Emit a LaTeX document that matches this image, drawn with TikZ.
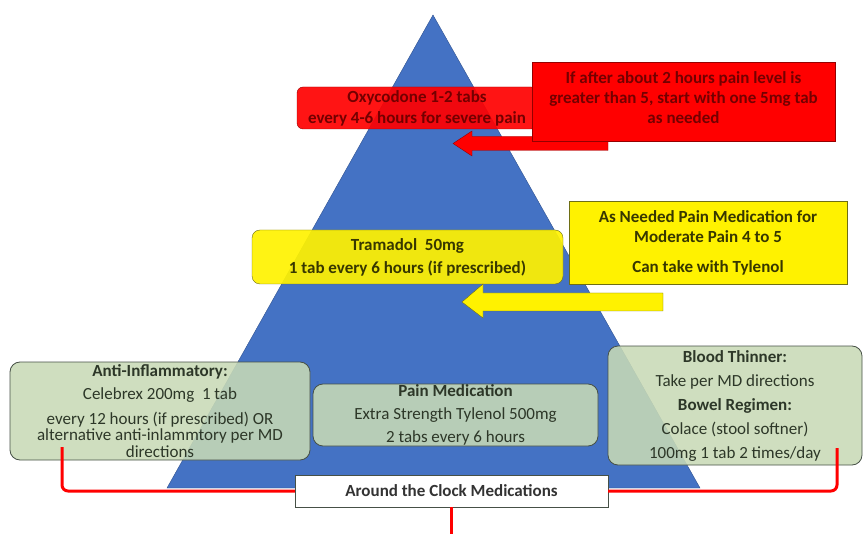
\documentclass[tikz,border=0pt]{standalone}
\usepackage{fontspec}
\setmainfont{Carlito}
\definecolor{pyrblue}{RGB}{68,114,196}
\definecolor{pyredge}{RGB}{47,82,143}
\definecolor{sage}{RGB}{200,218,182}
\definecolor{sagetext}{RGB}{45,55,40}
\definecolor{sageedge}{RGB}{70,80,70}
\definecolor{redtext}{RGB}{115,0,0}
\definecolor{rededge}{RGB}{150,0,0}
\definecolor{yeltext}{RGB}{55,55,0}
\definecolor{yeledge}{RGB}{110,110,20}
\begin{document}
\begin{tikzpicture}[x=1pt,y=-1pt,
    box/.style={inner sep=0pt,align=center,font=\fontsize{17}{16.5}\selectfont},
    redbox/.style={box,draw=rededge,fill=red,text=redtext,font=\fontsize{17}{20}\selectfont\bfseries},
    yelbox/.style={box,draw=yeledge,fill=yellow,text=yeltext,font=\fontsize{17}{20}\selectfont\bfseries},
    sagebox/.style={box,draw=sageedge,fill=sage,fill opacity=0.88,text opacity=1,text=sagetext,rounded corners=10pt,thick},
    bracket/.style={red,line width=3pt,rounded corners=6pt}]
    \useasboundingbox (0,0) rectangle (864,534);

    % pyramid
    \filldraw[fill=pyrblue,draw=pyredge] (433,15) -- (700,488) -- (167,488) -- cycle;

    % severe pain
    \node[redbox,rounded corners=6pt,fill opacity=0.92,text opacity=1,minimum width=240pt,minimum height=42pt] (oxy) at (417,108) {Oxycodone 1-2 tabs\\[1pt] every 4-6 hours for severe pain};
    \filldraw[fill=red,draw=rededge] (608,136.5) -- (472,136.5) -- (472,131) -- (453,143.5) -- (472,156) -- (472,150.5) -- (608,150.5) -- cycle;
    \node[redbox,minimum width=303pt,minimum height=79pt] (oxynote) at (683.5,101.5) {If after about 2 hours pain level is\\ greater than 5, start with one 5mg tab\\ as needed\\[-13pt]};

    % moderate pain
    \node[yelbox,rounded corners=8pt,fill opacity=0.92,text opacity=1,minimum width=311pt,minimum height=54pt] (tram) at (407.5,257) {Tramadol\ \ 50mg\\[3pt] 1 tab every 6 hours (if prescribed)};
    \node[yelbox,minimum width=278pt,minimum height=83pt] (tramnote) at (708,242.5) {As Needed Pain Medication for\\ Moderate Pain 4 to 5\\[10pt] Can take with Tylenol};
    \filldraw[fill=yellow,draw=yeledge] (663,293) -- (483,293) -- (483,284) -- (462,302) -- (483,318) -- (483,311) -- (663,311) -- cycle;

    % around the clock
    \node[sagebox,minimum width=300pt,minimum height=98pt] (antiinf) at (160,411) {\textbf{Anti-Inflammatory:}\\[6.5pt] Celebrex 200mg\ \ 1 tab\\[8.5pt] every 12 hours (if prescribed) OR\\ alternative anti-inlammtory per MD\\ directions};
    \node[sagebox,minimum width=285pt,minimum height=62pt] (painmed) at (455.5,415) {\textbf{Pain Medication}\\[6.5pt] Extra Strength Tylenol 500mg\\[6.5pt] 2 tabs every 6 hours};
    \node[sagebox,minimum width=254pt,minimum height=119pt] (thinner) at (735,405.5) {\textbf{Blood Thinner:}\\[7.5pt] Take per MD directions\\[7.5pt] \textbf{Bowel Regimen:}\\[7.5pt] Colace (stool softner)\\[7.5pt] 100mg 1 tab 2 times/day};

    \node[box,draw=sageedge,fill=white,font=\fontsize{17}{16.5}\selectfont\bfseries,text=black!80,minimum width=313pt,minimum height=32pt] (clock) at (451.5,491) {Around the Clock Medications};

    \coordinate (lfoot) at (62,447);
    \coordinate (rfoot) at (837,448);
    \coordinate (stem) at (451.5,534);
    \draw[bracket] (lfoot) |- (clock.west);
    \draw[bracket] (clock.east) -| (rfoot);
    \draw[bracket] (clock.south) -- (stem);
\end{tikzpicture}
\end{document}
